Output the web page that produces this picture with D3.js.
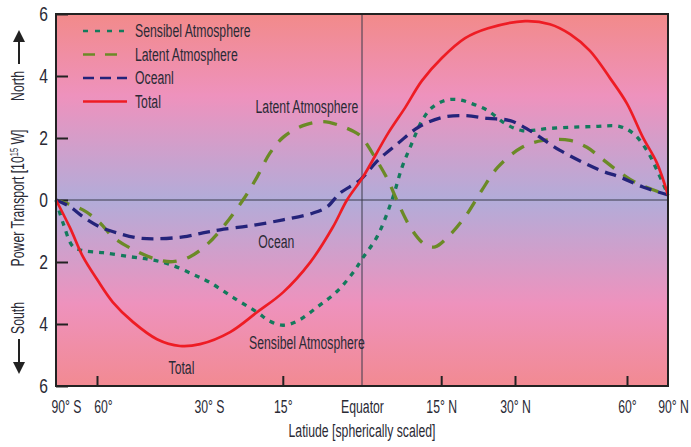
<!DOCTYPE html>
<html>
<head>
<meta charset="utf-8">
<script src="https://cdn.jsdelivr.net/npm/d3@7"></script>
<style>
  body { margin: 0; background: #fff; }
  svg text { font-family: "Liberation Sans", Arial, sans-serif; fill: #2a2a35; }
</style>
</head>
<body>
<div id="graph"></div>
<script>
// x values are sin(latitude), the chart is spherically scaled
var totalX = [-1, -0.954, -0.912, -0.866, -0.814, -0.748, -0.670, -0.595, -0.529, -0.431, -0.343, -0.258, -0.170, -0.095, -0.049, 0.003, 0.085, 0.141, 0.196, 0.261, 0.337, 0.412, 0.533, 0.614, 0.680, 0.745, 0.810, 0.866, 0.918, 0.964, 1];
var totalY = [0, -0.9, -1.83, -2.56, -3.3, -3.94, -4.49, -4.71, -4.65, -4.26, -3.62, -2.98, -2.02, -0.87, 0, 0.74, 2.15, 2.98, 3.85, 4.58, 5.22, 5.54, 5.77, 5.67, 5.35, 4.81, 3.94, 3.11, 2.02, 1.19, 0.16];

var oceanX = [-1, -0.954, -0.912, -0.856, -0.801, -0.735, -0.670, -0.585, -0.520, -0.464, -0.366, -0.258, -0.160, -0.114, -0.072, -0.007, 0.052, 0.118, 0.183, 0.261, 0.337, 0.412, 0.484, 0.549, 0.647, 0.778, 0.843, 0.918, 1];
var oceanY = [0, -0.22, -0.54, -0.87, -1.06, -1.22, -1.25, -1.19, -1.06, -0.96, -0.83, -0.64, -0.42, -0.22, 0.22, 0.64, 1.28, 1.83, 2.34, 2.66, 2.72, 2.63, 2.56, 2.24, 1.60, 0.96, 0.74, 0.42, 0.16];

var sensibleX = [-1, -0.977, -0.944, -0.912, -0.846, -0.758, -0.693, -0.627, -0.552, -0.497, -0.422, -0.343, -0.301, -0.258, -0.212, -0.147, -0.082, -0.029, 0.003, 0.049, 0.098, 0.131, 0.163, 0.196, 0.229, 0.271, 0.314, 0.359, 0.412, 0.467, 0.523, 0.614, 0.755, 0.843, 0.886, 0.931, 0.964, 1];
var sensibleY = [0, -0.74, -1.51, -1.63, -1.70, -1.83, -1.92, -2.08, -2.40, -2.66, -3.14, -3.62, -3.91, -4.04, -3.91, -3.46, -2.95, -2.34, -1.86, -1.19, 0, 1.06, 1.83, 2.56, 2.98, 3.21, 3.24, 3.11, 2.88, 2.47, 2.24, 2.31, 2.37, 2.37, 2.15, 1.60, 0.96, 0.16];

var latentX = [-1, -0.912, -0.856, -0.814, -0.748, -0.670, -0.618, -0.562, -0.507, -0.454, -0.389, -0.343, -0.301, -0.258, -0.193, -0.127, -0.072, -0.016, 0, 0.042, 0.085, 0.118, 0.163, 0.206, 0.239, 0.281, 0.337, 0.392, 0.444, 0.523, 0.592, 0.680, 0.735, 0.778, 0.833, 0.899, 1];
var latentY = [0, -0.32, -0.74, -1.19, -1.60, -1.92, -1.99, -1.83, -1.44, -0.87, 0, 0.74, 1.51, 2.02, 2.40, 2.53, 2.40, 2.15, 2.02, 1.38, 0.64, -0.10, -0.96, -1.44, -1.51, -1.19, -0.54, 0.32, 1.06, 1.70, 1.92, 1.92, 1.70, 1.38, 0.96, 0.54, 0.16];

var xTickLat = [-90, -60, -30, -15, 0, 15, 30, 60, 90];
var xTickLabels = ["90° S", "60°", "30° S", "15°", "Equator", "15° N", "30° N", "60°", "90° N"];
var yTickValues = [-6, -4, -2, 0, 2, 4, 6];

var legendNames = ["Sensibel Atmosphere", "Latent Atmosphere", "Oceanl", "Total"];

const margin = {top: 14, right: 23, bottom: 61, left: 56};
const squeeze = 0.68; // the original uses a condensed face
var W = 691, H = 447;
var width = W - margin.left - margin.right;
var height = H - margin.top - margin.bottom;

function condense(sel, f) {
    sel.each(function() {
        var L = this.getComputedTextLength();
        d3.select(this).attr("textLength", L * f).attr("lengthAdjust", "spacingAndGlyphs");
    });
}

var svg = d3.select("#graph").append("svg")
    .attr("width", W)
    .attr("height", H);

var defs = svg.append("defs");
var grad = defs.append("linearGradient")
    .attr("id", "bg").attr("x1", 0).attr("y1", 0).attr("x2", 0).attr("y2", 1);
[["0%", "#f28a8a"], ["22%", "#ee92bd"], ["50%", "#b2acd9"], ["78%", "#ee92bd"], ["100%", "#f28a92"]]
    .forEach(function(s) { grad.append("stop").attr("offset", s[0]).attr("stop-color", s[1]); });

var g = svg.append("g").attr("transform", "translate(" + margin.left + "," + margin.top + ")");

var xScale = d3.scaleLinear().domain([-1, 1]).range([0, width]);
var yScale = d3.scaleLinear().domain([-6, 6]).range([height, 0]);

g.append("rect")
    .attr("width", width).attr("height", height)
    .attr("fill", "url(#bg)");

// zero line and equator line
g.append("line")
    .attr("x1", 0).attr("x2", width)
    .attr("y1", yScale(0)).attr("y2", yScale(0))
    .attr("stroke", "#3a3a4a").attr("stroke-width", 1);
g.append("line")
    .attr("x1", xScale(0)).attr("x2", xScale(0))
    .attr("y1", 0).attr("y2", height)
    .attr("stroke", "#3a3a4a").attr("stroke-width", 1);

// axes
var yAxis = d3.axisLeft(yScale)
    .tickValues(yTickValues)
    .tickSizeInner(-12).tickSizeOuter(0).tickPadding(8)
    .tickFormat(function(d) { return Math.abs(d); });
var ya = g.append("g").call(yAxis);
ya.select(".domain").remove();
ya.selectAll("line").attr("stroke", "#222").attr("stroke-width", 2);
ya.selectAll("text").style("font-size", "20px").attr("fill", "#2a2a35").call(condense, 0.78);

var xAxis = d3.axisBottom(xScale)
    .tickValues(xTickLat.map(function(d) { return Math.sin(d * Math.PI / 180); }))
    .tickSizeInner(-10).tickSizeOuter(0).tickPadding(14)
    .tickFormat(function(d, i) { return xTickLabels[i]; });
var xa = g.append("g").attr("transform", "translate(0," + height + ")").call(xAxis);
xa.select(".domain").remove();
xa.selectAll("line").attr("stroke", "#222").attr("stroke-width", 2)
    .attr("display", function(d, i) { return (xTickLat[i] === -30 || xTickLat[i] === 0 || Math.abs(xTickLat[i]) === 90) ? "none" : null; });
xa.selectAll("text").style("font-size", "18px").attr("fill", "#2a2a35")
    .attr("transform", function(d, i) {
        var off = xTickLat[i] === -90 ? 10 : (xTickLat[i] === 90 ? 5 : (xTickLat[i] === -60 ? 6 : 0));
        return "translate(" + off + ",0) scale(" + squeeze + ",1)";
    });

// lines
var line = d3.line()
    .x(function(d) { return xScale(d[0]); })
    .y(function(d) { return yScale(d[1]); })
    .curve(d3.curveCatmullRom.alpha(0.5));

function pairs(xs, ys) { return xs.map(function(x, i) { return [x, ys[i]]; }); }

var series = [
    {name: legendNames[0], data: pairs(sensibleX, sensibleY), color: "#137a5c", dash: "5,6", w: 3.3},
    {name: legendNames[1], data: pairs(latentX, latentY), color: "#6b8a26", dash: "14,11", w: 3.3},
    {name: legendNames[2], data: pairs(oceanX, oceanY), color: "#24237a", dash: "12,7", w: 3.3},
    {name: legendNames[3], data: pairs(totalX, totalY), color: "#ee1c24", dash: null, w: 2.7}
];

g.selectAll(".series")
    .data(series)
    .enter().append("path")
    .attr("class", "series")
    .attr("d", function(d) { return line(d.data); })
    .attr("fill", "none")
    .attr("stroke", function(d) { return d.color; })
    .attr("stroke-width", function(d) { return d.w; })
    .attr("stroke-dasharray", function(d) { return d.dash; });

// frame
g.append("rect")
    .attr("width", width).attr("height", height)
    .attr("fill", "none").attr("stroke", "#222").attr("stroke-width", 2);

// legend
var legend = g.selectAll(".leg")
    .data(series)
    .enter().append("g")
    .attr("class", "leg")
    .attr("transform", function(d, i) { return "translate(27," + (17 + i * 23.5) + ")"; });
legend.append("line")
    .attr("x1", 0).attr("x2", 44)
    .attr("stroke", function(d) { return d.color; })
    .attr("stroke-width", 2.4)
    .attr("stroke-dasharray", function(d, i) { return i === 0 ? "5,7" : (i === 1 ? "12,10" : (i === 2 ? "11,6" : null)); });
legend.append("text")
    .attr("x", 52).attr("dy", "0.35em")
    .style("font-size", "18px")
    .text(function(d) { return d.name; })
    .call(condense, squeeze);

// annotations
var notes = [
    {t: "Latent Atmosphere", x: -0.18, y: 3.0},
    {t: "Ocean", x: -0.28, y: -1.35},
    {t: "Sensibel Atmosphere", x: -0.18, y: -4.6},
    {t: "Total", x: -0.59, y: -5.4}
];
g.selectAll(".note")
    .data(notes)
    .enter().append("text")
    .attr("class", "note")
    .attr("x", function(d) { return xScale(d.x); })
    .attr("y", function(d) { return yScale(d.y); })
    .attr("text-anchor", "middle")
    .attr("dy", "0.35em")
    .style("font-size", "18px")
    .text(function(d) { return d.t; })
    .call(condense, squeeze);

// axis titles
svg.append("text")
    .attr("x", 362).attr("y", 437)
    .attr("text-anchor", "middle")
    .style("font-size", "18px")
    .text("Latiude [spherically scaled]")
    .call(condense, squeeze);

function vLabel(txt, cy) {
    svg.append("text")
        .attr("transform", "translate(24," + cy + ") rotate(-90) scale(" + squeeze + ",1)")
        .attr("text-anchor", "middle")
        .style("font-size", "18px")
        .text(txt);
}
vLabel("North", 86);
vLabel("South", 318);
var pt = svg.append("text")
    .attr("transform", "translate(24,198) rotate(-90) scale(" + squeeze + ",1)")
    .attr("text-anchor", "middle")
    .style("font-size", "18px");
pt.append("tspan").text("Power Transport [10");
pt.append("tspan").attr("dy", -6).style("font-size", "11px").text("15");
pt.append("tspan").attr("dy", 6).text(" W]");

// arrows
var arrowDefs = defs.append("marker")
    .attr("id", "head").attr("viewBox", "0 0 10 10")
    .attr("refX", 5).attr("refY", 5)
    .attr("markerWidth", 6).attr("markerHeight", 6)
    .attr("orient", "auto");
arrowDefs.append("path").attr("d", "M0,0 L10,5 L0,10 z").attr("fill", "#222");
svg.append("line").attr("x1", 19).attr("x2", 19).attr("y1", 64).attr("y2", 36)
    .attr("stroke", "#222").attr("stroke-width", 2).attr("marker-end", "url(#head)");
svg.append("line").attr("x1", 19).attr("x2", 19).attr("y1", 339).attr("y2", 368)
    .attr("stroke", "#222").attr("stroke-width", 2).attr("marker-end", "url(#head)");
</script>
</body>
</html>
